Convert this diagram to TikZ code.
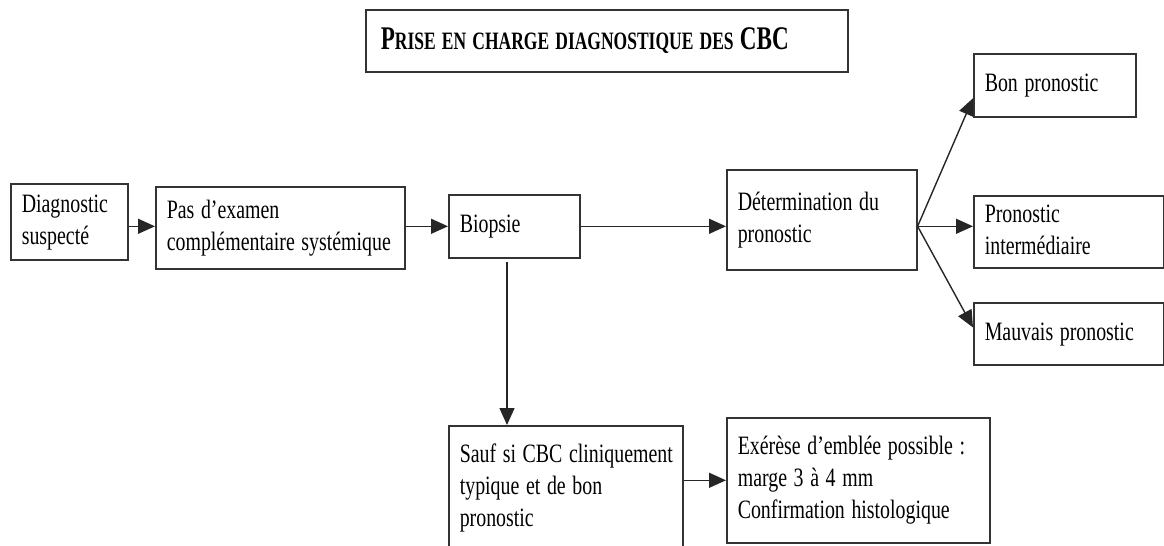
\documentclass[tikz,border=0pt]{standalone}
\usepackage{fontspec}
\usepackage{graphicx}
\setmainfont{Liberation Serif}
\usetikzlibrary{arrows.meta,calc}

% narrow text, as in the scanned figure
\newcommand{\etroit}[1]{\scalebox{0.75}[1]{\begin{tabular}{@{}l@{}}#1\end{tabular}}}

\tikzset{
  boite/.style={draw=black!80, line width=0.8pt, anchor=north west, align=left,
    inner xsep=5.5pt, inner ysep=0pt},
  fleche/.style={-{Triangle[length=8.5pt,width=7.5pt]}, line width=0.7pt, black!85},
}

\begin{document}
\begin{tikzpicture}[x=0.5pt, y=-0.5pt, font=\fontsize{13.25}{16}\selectfont]
      % Frame of the page, in pixels of the reference
      \useasboundingbox (0,0) rectangle (1164,546);
      \clip (0,0) rectangle (1164,546);

      % Title
      \node[boite, inner xsep=7.5pt, text width=226pt, minimum height=31pt] (titre) at (365,9)
        {\scalebox{0.7}[1]{\bfseries{\fontsize{16.5}{18}\selectfont P}{\fontsize{12.5}{13}\selectfont RISE EN CHARGE DIAGNOSTIQUE DES }{\fontsize{16.5}{18}\selectfont CBC}}};

      % Main line
      \node[boite, text width=47.5pt, minimum height=38pt] (diag) at (10,183) {\etroit{Diagnostic\\suspecté}};
      \node[boite, text width=113.5pt, minimum height=41pt] (pas) at (155,186) {\etroit{Pas d’examen\\complémentaire systémique}};
      \node[boite, text width=54.5pt, minimum height=31.5pt] (biop) at (448,194) {\etroit{Biopsie}};
      \node[boite, text width=84pt, minimum height=50pt] (det) at (726,169) {\etroit{Détermination du\\pronostic}};

      % Prognosis boxes
      \node[boite, text width=70pt, minimum height=31.5pt] (bon) at (973,53) {\etroit{Bon pronostic}};
      \node[boite, text width=84pt, minimum height=36pt] (inter) at (973,195) {\etroit{Pronostic\\intermédiaire}};
      \node[boite, text width=84pt, minimum height=31pt] (mauv) at (973,302) {\etroit{Mauvais pronostic}};

      % Lower branch
      \node[boite, text width=106pt, minimum height=62.5pt] (sauf) at (448,425) {\etroit{Sauf si CBC cliniquement\\typique et de bon\\pronostic}};
      \node[boite, text width=120.5pt, minimum height=62.5pt] (exer) at (726,417) {\etroit{Exérèse d’emblée possible~:\\marge 3 à 4 mm\\Confirmation histologique}};

      % Arrows
      \coordinate (fourche) at (det.east |- biop.east);
      \draw[fleche] (diag.east |- biop.east) -- (pas.west |- biop.east);
      \draw[fleche] (pas.east |- biop.west) -- (biop.west);
      \draw[fleche] (biop.east) -- (det.west |- biop.east);
      \draw[fleche] (fourche) -- ($(bon.south west)!0.3!(bon.north west)$);
      \draw[fleche] (fourche) -- (inter.west |- fourche);
      \draw[fleche] (fourche) -- ($(mauv.north west)!0.4!(mauv.south west)$);
      \draw[fleche] ([xshift=29.5pt,yshift=-1.5pt]biop.south west) -- ([xshift=29.5pt]sauf.north west);
      \draw[fleche] (sauf.east |- exer.west) -- (exer.west);
\end{tikzpicture}
\end{document}
